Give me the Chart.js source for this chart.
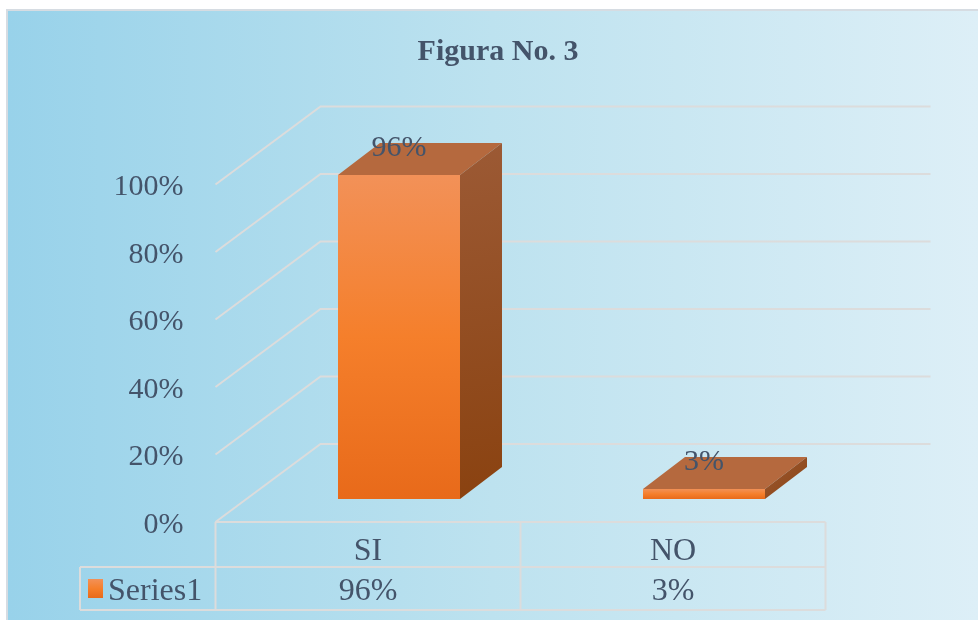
<!DOCTYPE html>
<html>
<head>
<meta charset="utf-8">
<script src="https://cdn.jsdelivr.net/npm/chart.js@4.4.1/dist/chart.umd.min.js"></script>
<style>
  html, body { margin: 0; padding: 0; background: #fff; }
  #wrap { width: 978px; height: 620px; position: relative; }
</style>
</head>
<body>
<div id="wrap"><canvas id="chart"></canvas></div>
<script>
// data
const categories = ["SI", "NO"];
const seriesName = "Series1";
const values = [0.96, 0.03];
const yTicks = [0, 0.2, 0.4, 0.6, 0.8, 1.0];

const textColor = "#44546A";
const lineColor = "#DCDCDC";
const serif = "'Liberation Serif', 'Times New Roman', serif";

// 3d offsets (pixels) relative to the plane the bar fronts sit in
const front = { dx: -31, dy: 23 };
const back = { dx: 74, dy: -55 };
const barDepth = { dx: 42, dy: -32 };

const pct = (v) => Math.round(v * 100) + "%";

function frontGradient(ctx, top, bottom) {
  const g = ctx.createLinearGradient(0, top, 0, bottom);
  g.addColorStop(0, "#F29158");
  g.addColorStop(0.5, "#F57F2B");
  g.addColorStop(1, "#E86A1A");
  return g;
}

const backgroundPlugin = {
  id: "bg",
  beforeDraw(chart) {
    const { ctx, width, height } = chart;
    ctx.save();
    ctx.fillStyle = "#fff";
    ctx.fillRect(0, 0, width, height);
    const g = ctx.createLinearGradient(8, 0, width, 0);
    g.addColorStop(0, "#98D2EA");
    g.addColorStop(0.5, "#BDE2EF");
    g.addColorStop(1, "#DDEFF7");
    ctx.fillStyle = g;
    ctx.fillRect(8, 11, width - 8, height - 11);
    ctx.strokeStyle = "#D6DCE2";
    ctx.lineWidth = 2;
    ctx.beginPath();
    ctx.moveTo(7, height);
    ctx.lineTo(7, 10);
    ctx.lineTo(width, 10);
    ctx.stroke();
    ctx.restore();
  }
};

const wallsPlugin = {
  id: "walls",
  beforeDatasetsDraw(chart) {
    const { ctx, chartArea, scales } = chart;
    const fl = chartArea.left + front.dx;
    const bl = chartArea.left + back.dx;
    const br = chartArea.right + back.dx;
    ctx.save();
    ctx.strokeStyle = lineColor;
    ctx.lineWidth = 2;
    yTicks.forEach((v) => {
      const y = scales.y.getPixelForValue(v);
      ctx.beginPath();
      ctx.moveTo(fl, y + front.dy);
      ctx.lineTo(bl, y + back.dy);
      ctx.lineTo(br, y + back.dy);
      ctx.stroke();
    });
    ctx.restore();
  },
  afterDatasetsDraw(chart) {
    const { ctx } = chart;
    const meta = chart.getDatasetMeta(0);
    ctx.save();
    meta.data.forEach((bar, i) => {
      const { x, y, base, width } = bar.getProps(["x", "y", "base", "width"], true);
      const l = x - width / 2;
      const r = x + width / 2;
      // top face
      ctx.fillStyle = "#B5693E";
      ctx.beginPath();
      ctx.moveTo(l, y);
      ctx.lineTo(r, y);
      ctx.lineTo(r + barDepth.dx, y + barDepth.dy);
      ctx.lineTo(l + barDepth.dx, y + barDepth.dy);
      ctx.closePath();
      ctx.fill();
      // side face
      const sg = ctx.createLinearGradient(r, y + barDepth.dy, r + barDepth.dx, base);
      sg.addColorStop(0, "#9C5A35");
      sg.addColorStop(1, "#8A4210");
      ctx.fillStyle = sg;
      ctx.beginPath();
      ctx.moveTo(r, y);
      ctx.lineTo(r + barDepth.dx, y + barDepth.dy);
      ctx.lineTo(r + barDepth.dx, base + barDepth.dy);
      ctx.lineTo(r, base);
      ctx.closePath();
      ctx.fill();
      // value label
      ctx.fillStyle = textColor;
      ctx.font = "30px " + serif;
      ctx.textAlign = "center";
      ctx.textBaseline = "middle";
      ctx.fillText(pct(values[i]), x, y - 27);
    });
    ctx.restore();
  }
};

const tablePlugin = {
  id: "table",
  afterDraw(chart) {
    const { ctx, chartArea, scales } = chart;
    const y0 = scales.y.getPixelForValue(0) + front.dy;
    const y1 = y0 + 45;
    const y2 = y1 + 43;
    const left = chartArea.left + front.dx;
    const right = chartArea.right + front.dx;
    const legendLeft = 80;
    const step = (right - left) / categories.length;
    ctx.save();
    ctx.strokeStyle = lineColor;
    ctx.lineWidth = 2;
    ctx.beginPath();
    ctx.moveTo(left, y0); ctx.lineTo(right, y0);
    ctx.moveTo(legendLeft, y1); ctx.lineTo(right, y1);
    ctx.moveTo(legendLeft, y2); ctx.lineTo(right, y2);
    ctx.moveTo(legendLeft, y1); ctx.lineTo(legendLeft, y2);
    for (let i = 0; i <= categories.length; i++) {
      const x = left + i * step;
      ctx.moveTo(x, y0); ctx.lineTo(x, y2);
    }
    ctx.stroke();

    ctx.fillStyle = textColor;
    ctx.font = "32px " + serif;
    ctx.textAlign = "center";
    ctx.textBaseline = "middle";
    categories.forEach((c, i) => {
      const cx = scales.x.getPixelForValue(i) + front.dx;
      ctx.fillText(c, cx, (y0 + y1) / 2 + 7);
      ctx.fillText(pct(values[i]), cx, (y1 + y2) / 2 + 3);
    });
    // legend key
    ctx.fillStyle = frontGradient(ctx, y1 + 12, y1 + 31);
    ctx.fillRect(88, y1 + 12, 15, 19);
    ctx.fillStyle = textColor;
    ctx.textAlign = "left";
    ctx.fillText(seriesName, 108, (y1 + y2) / 2 + 3);
    ctx.restore();
  }
};

new Chart(document.getElementById("chart"), {
  type: "bar",
  data: {
    labels: categories,
    datasets: [{
      label: seriesName,
      data: values,
      categoryPercentage: 1,
      barPercentage: 0.4,
      borderWidth: 0,
      backgroundColor(context) {
        const { chart } = context;
        if (!chart.chartArea) return "#F57F2B";
        const s = chart.scales.y;
        const top = s.getPixelForValue(values[context.dataIndex]);
        const bottom = s.getPixelForValue(0);
        return frontGradient(chart.ctx, top, bottom);
      }
    }]
  },
  options: {
    responsive: true,
    maintainAspectRatio: false,
    animation: false,
    layout: { padding: { left: 18, right: 0, top: 0, bottom: 121 } },
    plugins: {
      legend: { display: false },
      tooltip: { enabled: false },
      title: {
        display: true,
        text: "Figura No. 3",
        color: textColor,
        font: { family: serif, size: 30, weight: "bold", lineHeight: 1.2 },
        padding: { top: 34, bottom: 91.5 }
      }
    },
    scales: {
      x: { display: false },
      y: {
        min: 0,
        max: 1,
        afterFit(scale) { scale.width = 228.5; },
        border: { display: false },
        grid: { display: false, drawTicks: false },
        ticks: {
          stepSize: 0.2,
          padding: 63,
          labelOffset: front.dy + 3,
          color: textColor,
          font: { family: serif, size: 30 },
          callback: (v) => pct(v)
        }
      },
      // empty right box that keeps the plot clear of the right edge
      yRight: {
        position: "right",
        min: 0,
        max: 1,
        afterFit(scale) { scale.width = 121.5; },
        border: { display: false },
        grid: { display: false, drawTicks: false },
        ticks: { display: false }
      }
    }
  },
  plugins: [backgroundPlugin, wallsPlugin, tablePlugin]
});
</script>
</body>
</html>
